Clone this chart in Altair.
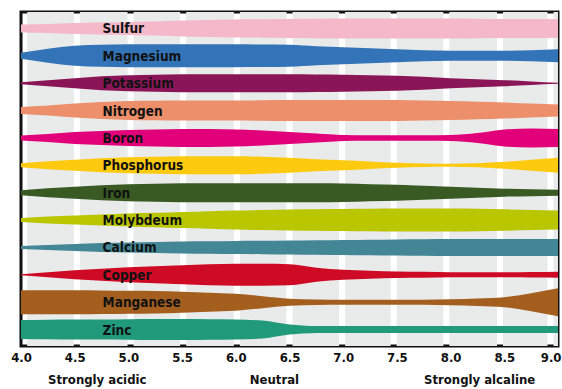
import altair as alt
import pandas as pd

# pH grid shared by all nutrients
ph = [4.0, 4.25, 4.5, 4.75, 5.0, 5.25, 5.5, 5.75, 6.0, 6.25, 6.5, 6.75,
      7.0, 7.25, 7.5, 7.75, 8.0, 8.25, 8.5, 8.75, 9.0]

nutrients = ["Sulfur", "Magnesium", "Potassium", "Nitrogen", "Boron", "Phosphorus",
             "Iron", "Molybdeum", "Calcium", "Copper", "Manganese", "Zinc"]

colors = ["#f4b8c9", "#3374b8", "#8a1658", "#ec8f6a", "#e2007a", "#fdca10",
          "#3a5a24", "#b9c600", "#438796", "#cf0a24", "#a45f1f", "#219a7b"]

# band width (relative availability) at each pH
sulfur     = [8, 9, 11, 12, 13, 14, 16, 17, 18, 18.5, 19, 19.5, 20, 20, 20, 20, 20, 19.5, 19, 19, 18.5]
magnesium  = [6, 14, 20, 22, 23, 23, 23, 23, 23, 22.5, 22, 19, 17, 15, 13, 11, 10, 10, 10, 11, 13]
potassium  = [2, 6, 10, 14, 16, 17, 18, 18, 18, 18, 18, 17.5, 17, 16, 15, 13, 10, 8, 6, 3.5, 1]
nitrogen   = [7, 10, 14, 17, 19, 19.5, 20, 20, 20, 20.5, 21, 21, 21, 21, 21, 20, 19, 17.5, 16, 14, 12]
boron      = [5, 8, 12, 14, 16, 17, 18, 18, 17, 15, 12, 9, 6, 5.5, 5.5, 5.5, 6, 10, 17, 19, 18]
phosphorus = [4, 8, 11, 14, 16, 17, 18, 18, 18, 17, 15, 12, 10, 7.5, 5, 3.5, 3, 4, 7, 11, 15]
iron       = [5, 9, 12, 15, 17, 18, 19, 19, 19, 19, 19, 19, 18.5, 17, 16, 14, 12, 10, 8, 7, 6]
molybdeum  = [4, 7, 9, 11, 13, 14.5, 16, 17.5, 19, 20, 21, 21.5, 22, 22.5, 23, 23, 23, 22.5, 21.5, 20, 19]
calcium    = [3, 5, 7, 9, 10, 11, 12, 12.5, 13, 13.5, 14, 14.5, 15, 15.5, 16, 16.5, 17, 17, 17, 17, 17]
copper     = [1, 5, 9, 12, 15, 17, 19, 21, 22, 22, 21, 14, 10, 8, 6.5, 6, 5, 5, 5, 5.5, 6]
manganese  = [24, 24, 24, 23.5, 23, 22.5, 21, 19, 17, 12, 7, 5.5, 5, 5, 5, 5, 6, 7.5, 10, 18, 28]
zinc       = [19, 19.5, 20, 20, 20.5, 21, 21, 20.5, 20, 18, 10, 7, 7, 7, 7, 7, 7, 7, 7, 7, 7]

widths = [sulfur, magnesium, potassium, nitrogen, boron, phosphorus,
          iron, molybdeum, calcium, copper, manganese, zinc]

# background stripe separators (white gaps)
gap_centers = [4.03, 4.52, 5.02, 5.51, 6.01, 6.50, 6.99, 7.47, 7.96, 8.46, 8.93, 9.4]

tick_values = [4.0, 4.5, 5.0, 5.5, 6.0, 6.5, 7.0, 7.5, 8.0, 8.5, 9.0]

zone_labels = ["Strongly acidic", "Neutral", "Strongly alcaline"]
zone_ph = [4.71, 6.36, 8.27]

ROW_SCALE = 27.4  # width units per row

rows = []
for i, (n, w) in enumerate(zip(nutrients, widths)):
    for p, v in zip(ph, w):
        rows.append({"nutrient": n, "row": i, "ph": p, "w": v})
bands = pd.DataFrame(rows)

stripes = pd.DataFrame({
    "x0": [c + 0.028 for c in gap_centers[:-1]],
    "x1": [c - 0.028 for c in gap_centers[1:]],
})

labels = pd.DataFrame({"nutrient": nutrients, "row": list(range(len(nutrients)))})
zones = pd.DataFrame({"text": zone_labels, "ph": zone_ph})

FONT = "Liberation Sans Narrow, DejaVu Sans Condensed, Arial Narrow, sans-serif"

xscale = alt.Scale(domain=[4, 9], nice=False, zero=False)
yscale = alt.Scale(domain=[-0.6, 11.6], reverse=True, nice=False, zero=False)

bg = alt.Chart(stripes).mark_rect(color="#e9eaea", clip=True).encode(
    x=alt.X("x0:Q", scale=xscale,
            axis=alt.Axis(values=tick_values, format=".1f", title=None, grid=False,
                          ticks=False, domain=False, labelFont=FONT, labelFontSize=13,
                          labelFontWeight="bold", labelColor="#111", labelPadding=5,
                          labelFlush=False, labelOverlap=False, labelBound=False,
                          labelAlign=alt.condition("datum.value >= 9", alt.value("right"),
                                                   alt.value("center")),
                          labelOffset=alt.condition("datum.value >= 9", alt.value(3),
                                                    alt.value(0)))),
    x2="x1:Q",
)

areas = alt.Chart(bands).transform_calculate(
    lo=f"datum.row - datum.w / (2 * {ROW_SCALE})",
    hi=f"datum.row + datum.w / (2 * {ROW_SCALE})",
).mark_area(interpolate="monotone", opacity=1).encode(
    x=alt.X("ph:Q", scale=xscale),
    y=alt.Y("lo:Q", scale=yscale, axis=None),
    y2="hi:Q",
    color=alt.Color("nutrient:N", scale=alt.Scale(domain=nutrients, range=colors), legend=None),
    detail="nutrient:N",
)

text = alt.Chart(labels).mark_text(
    align="left", baseline="middle", font=FONT, fontSize=13.5, fontWeight="bold", color="#111", dy=1
).encode(
    x=alt.datum(4.76),
    y=alt.Y("row:Q", scale=yscale),
    text="nutrient:N",
)

zone_text = alt.Chart(zones).mark_text(
    align="center", baseline="alphabetic", font=FONT, fontSize=13, fontWeight="bold", color="#111"
).encode(
    x=alt.X("ph:Q", scale=xscale),
    y=alt.value(372),
    text="text:N",
)

chart = alt.layer(bg, areas, text, zone_text).properties(
    width=537, height=334,
    padding={"left": 21, "top": 12, "right": 4, "bottom": 43},
    autosize=alt.AutoSizeParams(type="none"),
    background="white",
).configure_view(stroke="#111", strokeWidth=3)

chart.save("out.html", embed_options={"renderer": "svg", "actions": False})
